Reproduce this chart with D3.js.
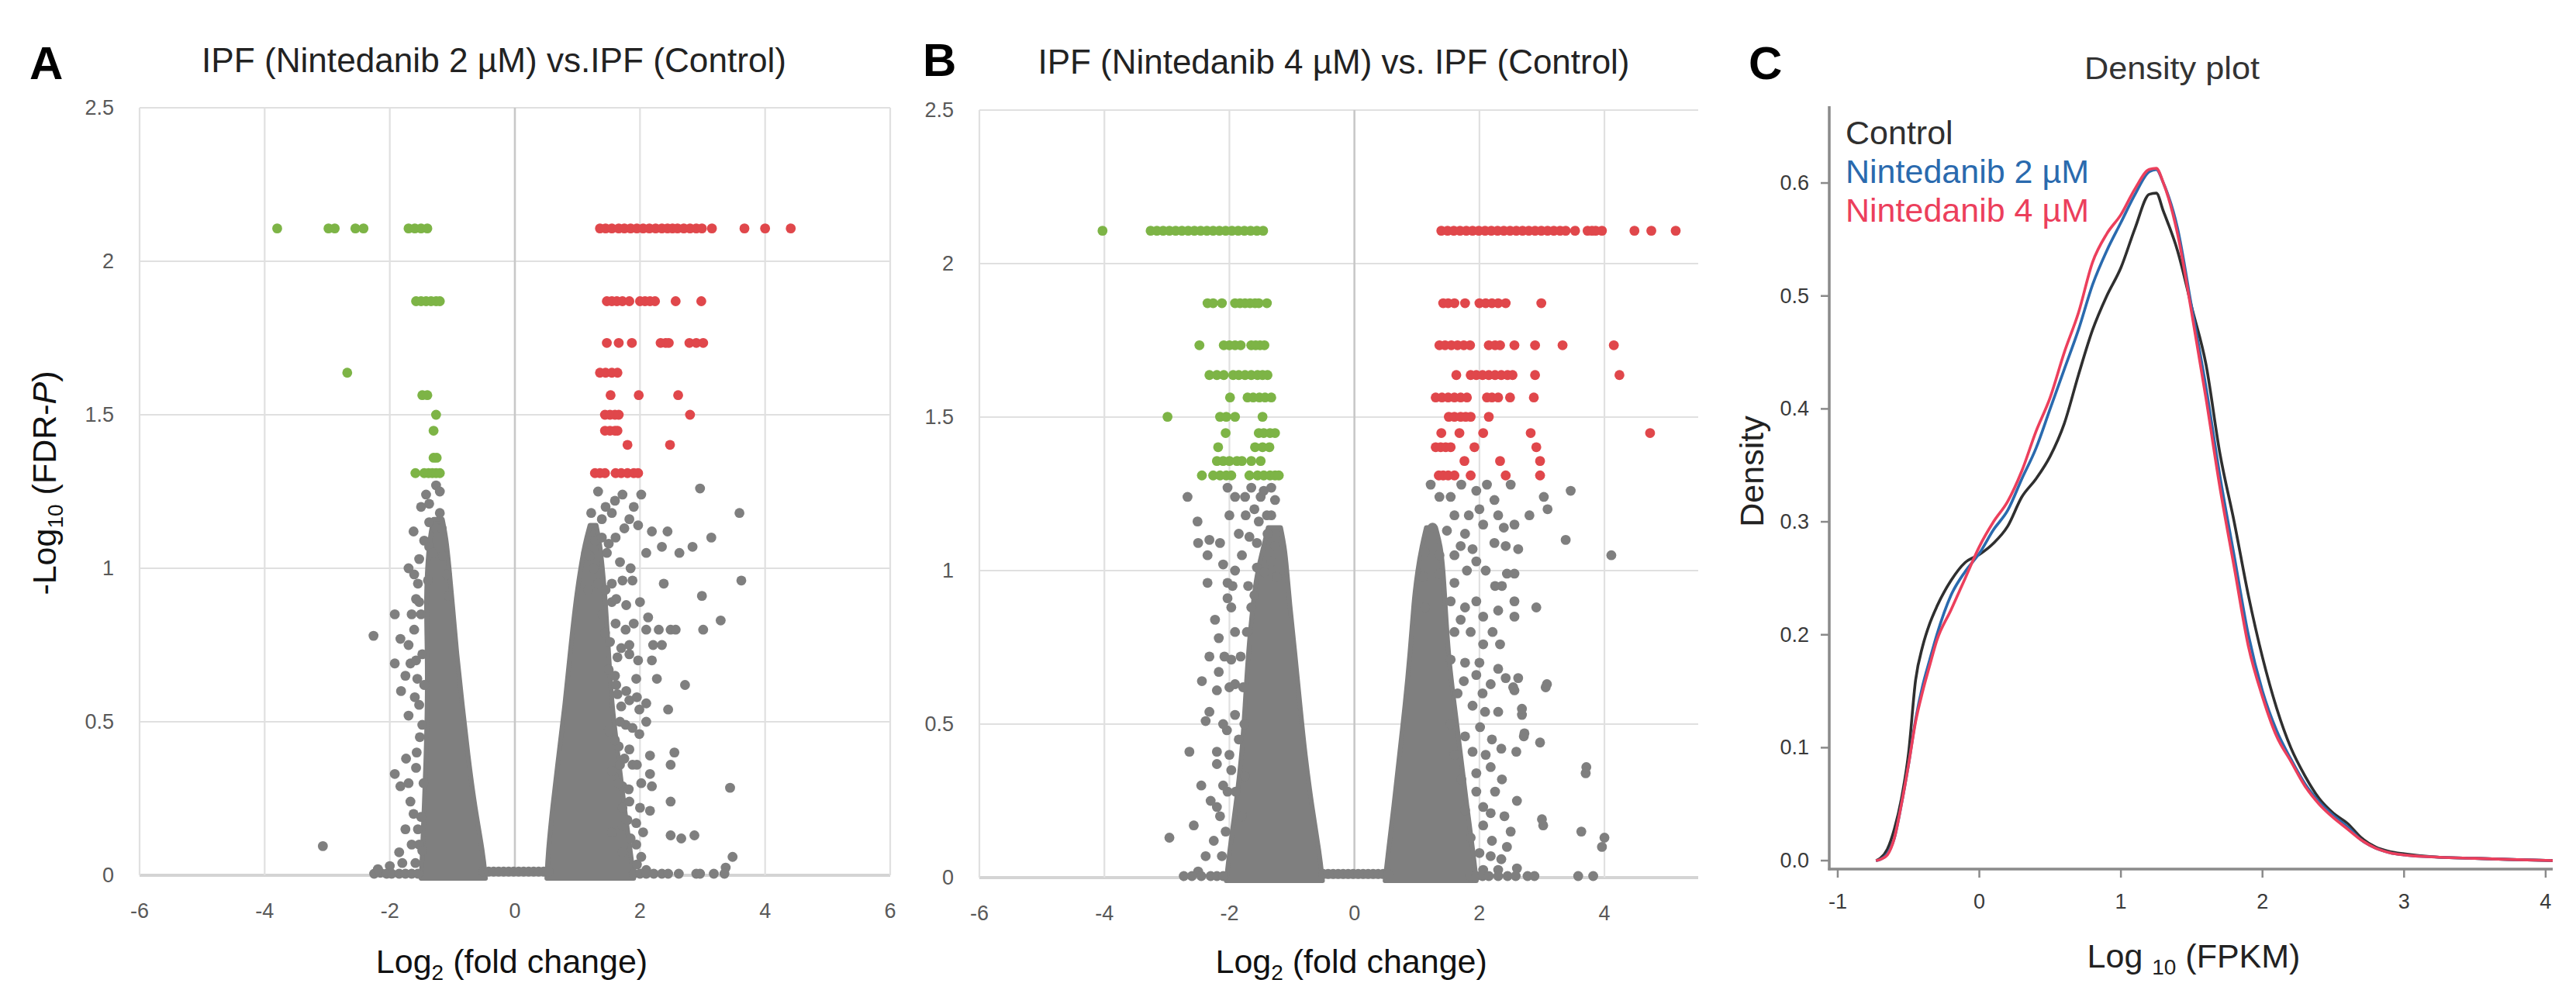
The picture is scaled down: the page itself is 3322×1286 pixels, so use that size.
<!DOCTYPE html>
<html><head><meta charset="utf-8">
<script src="https://cdn.jsdelivr.net/npm/d3@7"></script>
<style>html,body{margin:0;padding:0;background:#fff}</style>
</head><body>
<svg id="c" width="3322" height="1286"></svg>
<script>
// ================= DATA =================
const volcanoYTicks = [0, 0.5, 1, 1.5, 2, 2.5];
const volcanoXTicksA = [-6, -4, -2, 0, 2, 4, 6];
const volcanoXTicksB = [-6, -4, -2, 0, 2, 4];

// Panel A significant rows: [ -log10 FDR, [log2FC ...] ]
const aDownRows = [
  [2.107, [-3.8, -2.98, -2.88, -2.55, -2.42, -1.70, -1.60, -1.50, -1.40]],
  [1.87, [-1.58, -1.50, -1.42, -1.34, -1.26, -1.20]],
  [1.637, [-2.68]],
  [1.564, [-1.48, -1.40]],
  [1.50, [-1.26]],
  [1.448, [-1.30]],
  [1.36, [-1.30, -1.25]],
  [1.31, [-1.59, -1.45, -1.38, -1.32, -1.26, -1.20]]
];
const aUpRows = [
  [2.107, [1.36, 1.45, 1.55, 1.66, 1.75, 1.85, 1.95, 2.05, 2.15, 2.25, 2.35, 2.44, 2.52, 2.60, 2.70, 2.80, 2.90, 2.99, 3.15, 3.67, 4.0, 4.41]],
  [1.87, [1.47, 1.55, 1.63, 1.72, 1.83, 2.0, 2.08, 2.16, 2.24, 2.57, 2.98]],
  [1.734, [1.47, 1.66, 1.87, 2.33, 2.41, 2.46, 2.79, 2.90, 3.01]],
  [1.637, [1.36, 1.45, 1.55, 1.64]],
  [1.564, [1.53, 1.98, 2.61]],
  [1.50, [1.44, 1.52, 1.60, 1.66, 2.80]],
  [1.448, [1.44, 1.52, 1.60, 1.64]],
  [1.402, [1.80, 2.48]],
  [1.31, [1.28, 1.36, 1.44, 1.61, 1.70, 1.80, 1.90, 1.97]]
];
// Panel A dense cores: [y, xLeft, xRight]
const aCoreLeft = [[-0.01,-1.5,-0.47],[0.075,-1.48,-0.51],[0.22,-1.45,-0.64],[0.39,-1.42,-0.75],[0.555,-1.4,-0.84],[0.72,-1.4,-0.93],[0.89,-1.42,-1.0],[1.0,-1.4,-1.05],[1.1,-1.36,-1.1],[1.16,-1.3,-1.16]];
const aCoreRight = [[-0.01,0.51,1.9],[0.075,0.53,1.85],[0.22,0.6,1.75],[0.39,0.7,1.65],[0.555,0.8,1.55],[0.72,0.88,1.5],[0.89,0.97,1.45],[1.0,1.05,1.4],[1.08,1.12,1.36],[1.14,1.2,1.3]];
const bridgeX = [-0.5,-0.42,-0.34,-0.26,-0.18,-0.1,-0.02,0.06,0.14,0.22,0.30,0.38,0.46,0.54];
// Panel A non-significant genes: [log2FC, -log10 FDR]
const aGrey = [
 [-1.26,1.27],[-1.2,1.25],[-1.42,1.24],[-1.37,1.21],[-1.5,1.2],[-1.2,1.18],[-1.37,1.15],[-1.26,1.13],[-1.17,1.13],[-1.45,1.09],[-1.37,1.07],[-1.31,1.05],[-1.53,1.03],[-1.15,1.04],[-1.09,0.98],[-1.39,0.96],[-1.06,0.91],[-1.58,0.9],
 [-2.26,0.78],[-1.92,0.85],[-1.83,0.77],[-1.92,0.69],[-1.67,0.69],[-1.56,0.64],[-1.82,0.6],[-1.74,0.38],[-1.57,0.4],[-1.92,0.33],[-1.83,0.29],[-1.67,0.24],[-1.85,0.075],[-1.53,0.1],[-3.07,0.095],[-1.7,1.0],[-1.61,0.98],[-1.53,0.89],[-1.61,0.8],[-1.48,0.72],[-1.53,0.555],[-1.48,0.49],[-1.5,0.19],[-1.59,0.04],[-1.46,0.3],[-1.45,0.62],[-1.5,0.85],[-1.52,0.45],[-1.55,0.15],[-1.48,0.08],
 [-1.62,1.12],[-1.55,0.95],[-1.65,0.85],[-1.7,0.75],[-1.58,0.7],[-1.75,0.65],[-1.6,0.58],[-1.7,0.52],[-1.58,0.35],[-1.7,0.3],[-1.62,0.2],[-1.75,0.15],[-1.65,0.1],[-1.8,0.04],[-2.0,0.03],
 [-2.25,0.005],[-2.15,0.008],[-2.05,0.005],[-1.97,0.005],[-1.85,0.005],[-1.75,0.005],[-1.65,0.005],[-1.55,0.005],[-2.19,0.02],
 [1.33,1.25],[1.72,1.24],[2.02,1.24],[1.22,1.18],[1.39,1.16],[1.55,1.18],[1.83,1.16],[1.97,1.14],[2.19,1.12],[2.44,1.12],[2.1,1.05],[2.35,1.07],[2.63,1.05],[2.84,1.07],[3.14,1.1],[2.96,1.26],[3.59,1.18],[1.28,1.09],[1.39,1.1],[1.2,1.04],[1.61,1.1],[1.33,0.95],[1.55,0.95],[1.72,0.96],[1.88,0.96],[2.38,0.95],[3.62,0.96],[2.99,0.91],[2.0,0.89],[1.55,0.89],[1.61,0.82],[1.77,0.8],[2.13,0.84],[2.1,0.8],[2.3,0.8],[2.49,0.8],[2.57,0.8],[3.01,0.8],[3.29,0.83],[1.83,0.75],[2.21,0.75],[2.35,0.75],[1.83,0.72],[1.64,0.71],[2.19,0.7],[1.94,0.64],[2.27,0.64],[2.72,0.62],[1.83,0.57],[2.1,0.56],[2.45,0.54],[1.99,0.54],[1.77,0.49],[1.99,0.46],[2.1,0.5],[1.83,0.41],[2.16,0.39],[2.55,0.4],[2.49,0.36],[2.16,0.33],[1.88,0.36],[2.02,0.3],[2.19,0.29],[1.72,0.29],[3.44,0.285],[1.83,0.24],[2.49,0.24],[2.16,0.21],[1.94,0.17],[1.72,0.16],[2.49,0.13],[2.66,0.12],[2.87,0.13],[1.94,0.1],[1.72,0.075],[3.48,0.06],[3.37,0.025],[2.1,0.017],[1.5,0.47],[1.64,0.59],[1.5,0.67],[1.66,0.42],[1.55,0.34],[1.72,0.22],[1.55,0.14],[1.44,0.79],[1.14,1.05],[1.17,0.93],[1.47,1.05],[1.26,1.0],[1.4,0.85],[1.6,0.65],[1.7,0.55],[1.68,0.36],
 [1.6,1.22],[1.45,1.2],[1.9,1.2],[1.75,1.13],[1.5,1.08],[1.68,1.02],[1.85,1.0],[1.45,0.93],[1.62,0.9],[1.78,0.88],[1.9,0.82],[1.52,0.76],[1.7,0.74],[1.97,0.7],[1.62,0.62],[1.78,0.6],[1.95,0.58],[1.68,0.5],[1.88,0.48],[1.6,0.44],[1.75,0.38],[1.95,0.36],[1.65,0.3],[1.82,0.28],[2.0,0.22],[1.8,0.18],[2.05,0.14],[1.85,0.12],[2.02,0.06],[1.95,0.035],
 [1.9,0.005],[2.0,0.005],[2.1,0.005],[2.22,0.005],[2.35,0.005],[2.45,0.005],[2.62,0.005],[2.9,0.005],[2.96,0.005],[3.18,0.005],[3.35,0.005]
];

// Panel B
const bDownRows = [
  [2.107, [-4.03, -3.26, -3.16, -3.06, -2.96, -2.86, -2.76, -2.66, -2.56, -2.46, -2.36, -2.26, -2.16, -2.06, -1.96, -1.86, -1.76, -1.66, -1.56, -1.46]],
  [1.871, [-2.35, -2.26, -2.12, -1.91, -1.83, -1.75, -1.67, -1.59, -1.53, -1.40]],
  [1.734, [-2.48, -2.09, -2.0, -1.91, -1.82, -1.65, -1.58, -1.51, -1.44]],
  [1.637, [-2.32, -2.20, -2.09, -1.94, -1.85, -1.75, -1.65, -1.55, -1.47, -1.39]],
  [1.564, [-1.99, -1.71, -1.62, -1.52, -1.43, -1.33]],
  [1.501, [-2.99, -2.15, -2.05, -1.91, -1.47]],
  [1.448, [-2.06, -1.53, -1.45, -1.35, -1.27]],
  [1.402, [-2.18, -1.59, -1.47, -1.36]],
  [1.357, [-2.2, -2.1, -2.0, -1.88, -1.8, -1.65, -1.5]],
  [1.31, [-2.44, -2.26, -2.15, -2.05, -1.97, -1.68, -1.55, -1.45, -1.35, -1.27, -1.21]]
];
const bUpRows = [
  [2.107, [1.39, 1.49, 1.59, 1.69, 1.79, 1.89, 1.99, 2.09, 2.19, 2.29, 2.39, 2.49, 2.59, 2.69, 2.79, 2.89, 2.99, 3.09, 3.19, 3.29, 3.38, 3.53, 3.73, 3.80, 3.86, 3.96, 4.48, 4.75, 5.14]],
  [1.871, [1.42, 1.50, 1.60, 1.77, 2.0, 2.1, 2.2, 2.3, 2.42, 2.99]],
  [1.734, [1.36, 1.45, 1.55, 1.65, 1.75, 1.85, 2.15, 2.25, 2.33, 2.56, 2.89, 3.33, 4.15]],
  [1.637, [1.63, 1.86, 1.95, 2.05, 2.15, 2.25, 2.35, 2.45, 2.53, 2.89, 4.24]],
  [1.564, [1.30, 1.40, 1.50, 1.60, 1.70, 1.80, 2.12, 2.20, 2.30, 2.49, 2.87]],
  [1.501, [1.51, 1.60, 1.70, 1.78, 1.86, 2.15]],
  [1.448, [1.39, 1.68, 2.06, 2.82, 4.73]],
  [1.402, [1.30, 1.38, 1.46, 1.54, 1.92, 2.91]],
  [1.357, [1.76, 2.33, 2.97]],
  [1.31, [1.35, 1.42, 1.50, 1.60, 1.86, 2.42, 2.97]]
];
const bCoreLeft = [[-0.01,-2.05,-0.51],[0.083,-2.0,-0.56],[0.23,-1.9,-0.68],[0.40,-1.8,-0.79],[0.56,-1.75,-0.87],[0.73,-1.7,-0.95],[0.90,-1.62,-1.04],[1.0,-1.55,-1.08],[1.08,-1.45,-1.12],[1.14,-1.38,-1.18]];
const bCoreRight = [[-0.01,0.49,1.95],[0.083,0.54,1.9],[0.23,0.63,1.8],[0.40,0.72,1.7],[0.56,0.81,1.6],[0.73,0.89,1.5],[0.90,0.95,1.45],[1.0,1.01,1.42],[1.08,1.08,1.38],[1.14,1.15,1.3]];
const bGrey = [
 [-2.03,1.27],[-1.91,1.24],[-1.65,1.27],[-1.5,1.24],[-1.33,1.27],[-1.27,1.23],[-2.0,1.18],[-1.74,1.18],[-1.53,1.16],[-1.33,1.18],[-1.68,1.11],[-1.56,1.09],[-1.39,1.12],[-1.27,1.08],[-1.8,1.05],[-1.56,1.01],[-1.44,0.995],[-1.33,1.03],[-1.24,0.98],[-1.91,1.0],[-2.03,0.96],[-2.67,1.24],[-2.51,1.16],[-2.5,1.09],[-2.32,1.1],[-2.15,1.09],[-2.35,1.05],[-2.35,0.96],[-2.03,0.91],[-1.97,0.88],[-2.23,0.84],[-2.17,0.78],[-1.91,0.8],[-2.32,0.72],[-1.97,0.71],[-2.17,0.67],[-2.44,0.64],[-2.2,0.61],[-1.91,0.63],[-2.32,0.54],[-2.38,0.51],[-2.04,0.48],[-1.91,0.53],[-2.64,0.41],[-2.2,0.41],[-2.2,0.37],[-1.97,0.35],[-2.03,0.28],[-2.2,0.23],[-2.57,0.17],[-2.96,0.13],[-2.38,0.07],[-2.12,0.07],[-2.06,0.15],[-1.85,0.45],[-1.78,0.62],[-1.75,0.33],[-1.8,0.2],[-1.72,0.8],[-1.65,0.88],[-1.9,0.28],[-1.76,0.5],[-1.82,0.72],[-1.7,0.95],[-1.6,0.92],
 [-2.1,0.5],[-2.0,0.4],[-2.1,0.3],[-2.15,0.2],[-2.25,0.12],[-2.0,0.62],[-2.08,0.72],[-1.95,0.95],[-2.1,1.02],[-1.85,1.12],[-1.75,1.24],[-1.6,1.2],[-1.45,1.26],[-1.4,1.18],[-2.45,0.3],[-2.3,0.25],[-2.5,0.02],
 [-2.73,0.005],[-2.6,0.005],[-2.45,0.005],[-2.3,0.005],[-2.2,0.005],[-2.1,0.005],
 [1.22,1.28],[1.36,1.24],[1.54,1.24],[1.71,1.28],[1.95,1.26],[2.12,1.28],[2.24,1.23],[2.5,1.28],[1.6,1.18],[1.83,1.18],[1.25,1.14],[1.48,1.13],[1.77,1.12],[2.06,1.15],[2.39,1.14],[2.56,1.15],[2.8,1.18],[3.03,1.24],[3.09,1.2],[3.46,1.26],[3.38,1.1],[4.11,1.05],[1.13,1.06],[1.36,1.05],[1.6,1.05],[1.89,1.07],[2.24,1.09],[2.42,1.08],[2.62,1.07],[1.1,0.98],[1.36,0.99],[1.6,0.96],[1.8,1.0],[1.95,1.03],[2.44,0.99],[2.56,0.99],[2.36,0.95],[1.13,0.88],[1.54,0.9],[1.77,0.88],[2.06,0.85],[2.56,0.9],[2.56,0.85],[2.91,0.88],[1.6,0.8],[1.86,0.8],[2.06,0.76],[2.21,0.8],[2.33,0.76],[1.54,0.71],[1.77,0.7],[1.95,0.66],[2.18,0.63],[2.42,0.65],[2.56,0.61],[3.06,0.62],[1.65,0.6],[1.89,0.56],[2.09,0.54],[2.3,0.54],[2.68,0.53],[1.54,0.5],[1.77,0.46],[2.01,0.49],[2.71,0.46],[2.97,0.44],[1.6,0.4],[1.89,0.41],[2.18,0.36],[2.59,0.41],[2.36,0.32],[3.7,0.34],[1.71,0.32],[1.95,0.28],[2.06,0.23],[1.77,0.22],[2.18,0.21],[2.06,0.17],[1.86,0.13],[3.02,0.17],[3.63,0.15],[4.0,0.13],[3.96,0.1],[2.44,0.1],[2.18,0.07],[2.06,0.025],[2.3,0.025],[3.0,0.19],[3.71,0.36],[2.72,0.47],[3.08,0.63],[2.62,0.65],[2.54,0.62],[2.68,0.55],
 [2.0,1.2],[2.3,1.18],[1.7,1.08],[2.1,1.0],[2.25,0.95],[1.95,0.9],[2.3,0.87],[1.7,0.84],[2.0,0.7],[2.3,0.68],[1.75,0.64],[2.05,0.6],[2.2,0.45],[2.1,0.4],[2.35,0.42],[1.95,0.34],[2.25,0.28],[2.4,0.2],[2.2,0.12],[2.0,0.08],[2.35,0.06],[2.6,0.03],[2.5,0.15],[2.6,0.25],
 [1.85,0.005],[1.95,0.005],[2.05,0.005],[2.15,0.005],[2.3,0.005],[2.45,0.005],[2.58,0.005],[2.77,0.005],[2.88,0.005],[3.58,0.005],[3.82,0.005]
];

// Panel C: density curves
const densX = [-0.73,-0.7,-0.65,-0.6,-0.55,-0.5,-0.45,-0.4,-0.35,-0.3,-0.2,-0.1,0,0.1,0.2,0.3,0.4,0.5,0.6,0.7,0.8,0.9,1.0,1.1,1.2,1.25,1.3,1.4,1.5,1.6,1.7,1.8,1.9,2.0,2.1,2.2,2.3,2.4,2.5,2.6,2.7,2.8,2.9,3.0,3.25,3.5,3.75,4.05];
const densControl = [0,0.002,0.01,0.028,0.055,0.095,0.16,0.19,0.21,0.225,0.248,0.264,0.271,0.281,0.296,0.322,0.338,0.358,0.387,0.43,0.47,0.5,0.525,0.56,0.59,0.591,0.575,0.54,0.49,0.44,0.36,0.30,0.235,0.18,0.135,0.10,0.075,0.055,0.042,0.033,0.02,0.012,0.008,0.006,0.003,0.002,0.001,0];
const densN2 = [0,0.001,0.006,0.02,0.05,0.085,0.125,0.155,0.178,0.20,0.235,0.256,0.272,0.293,0.31,0.338,0.365,0.40,0.435,0.47,0.51,0.54,0.565,0.59,0.61,0.612,0.60,0.56,0.49,0.42,0.34,0.27,0.20,0.15,0.115,0.09,0.068,0.052,0.04,0.03,0.018,0.011,0.007,0.005,0.003,0.002,0.001,0];
const densN4 = [0,0.001,0.005,0.02,0.05,0.085,0.123,0.15,0.173,0.195,0.222,0.25,0.278,0.30,0.318,0.345,0.38,0.41,0.45,0.485,0.53,0.555,0.572,0.595,0.612,0.613,0.60,0.555,0.485,0.41,0.33,0.26,0.19,0.145,0.11,0.088,0.066,0.05,0.038,0.028,0.018,0.011,0.007,0.005,0.003,0.002,0.001,0];
const densSeriesNames = ["Control", "Nintedanib 2 \u00B5M", "Nintedanib 4 \u00B5M"];
const densXTicks = [-1, 0, 1, 2, 3, 4];
const densYTicks = [0, 0.1, 0.2, 0.3, 0.4, 0.5, 0.6];

// ================= DRAW =================
const FONT = "'Liberation Sans', Arial, sans-serif";
const GREY = "#7f7f7f", GREEN = "#7db446", RED = "#e0474b";
const svg = d3.select("#c").style("font-family", FONT);
svg.append("rect").attr("width", 3322).attr("height", 1286).attr("fill", "#fff");

function rowsToPts(rows) { return rows.flatMap(([yv, xs]) => xs.map(xv => [xv, yv])); }

function drawVolcano(o) {
  const x = d3.scaleLinear().domain(o.xDom).range([o.left, o.right]);
  const y = d3.scaleLinear().domain([0, 2.5]).range([o.bottom, o.top]);
  const g = svg.append("g");
  g.selectAll(".hg").data(volcanoYTicks).join("line")
    .attr("x1", o.left).attr("x2", o.right)
    .attr("y1", d => y(d)).attr("y2", d => y(d))
    .attr("stroke", d => d === 0 ? "#d4d4d4" : "#e0e0e0")
    .attr("stroke-width", d => d === 0 ? 4 : 2.2);
  g.selectAll(".vg").data(o.xTicks).join("line")
    .attr("x1", d => x(d)).attr("x2", d => x(d))
    .attr("y1", y(0)).attr("y2", y(2.5))
    .attr("stroke", d => d === 0 ? "#c8c8c8" : "#e0e0e0")
    .attr("stroke-width", d => d === 0 ? 2.6 : 2.2);
  g.selectAll(".yl").data(volcanoYTicks).join("text")
    .attr("x", o.left - 33).attr("y", d => y(d))
    .attr("text-anchor", "end").attr("dominant-baseline", "central")
    .attr("font-size", 27).attr("fill", "#595959").text(d => d);
  g.selectAll(".xl").data(o.xTicks).join("text")
    .attr("x", d => x(d)).attr("y", y(0) + 46)
    .attr("text-anchor", "middle").attr("dominant-baseline", "central")
    .attr("font-size", 27).attr("fill", "#595959").text(d => d);

  const area = d3.area().y(d => y(d[0])).x0(d => x(d[1])).x1(d => x(d[2])).curve(d3.curveBasis);
  g.selectAll(".core").data(o.cores).join("path")
    .attr("d", area).attr("fill", GREY).attr("stroke", GREY)
    .attr("stroke-width", 6).attr("stroke-linejoin", "round");
  const R = 6.4;
  const greyPts = o.grey.concat(bridgeX.map(v => [v, 0.012]));
  g.selectAll(".gp").data(greyPts).join("circle")
    .attr("cx", d => x(d[0])).attr("cy", d => y(d[1])).attr("r", R).attr("fill", GREY);
  g.selectAll(".dn").data(rowsToPts(o.down)).join("circle")
    .attr("cx", d => x(d[0])).attr("cy", d => y(d[1])).attr("r", R).attr("fill", GREEN);
  g.selectAll(".up").data(rowsToPts(o.up)).join("circle")
    .attr("cx", d => x(d[0])).attr("cy", d => y(d[1])).attr("r", R).attr("fill", RED);

  g.append("text").attr("x", o.labelX).attr("y", o.labelY)
    .attr("font-size", 60).attr("font-weight", "bold").attr("fill", "#000").text(o.label);
  g.append("text").attr("x", o.titleX).attr("y", o.titleY).attr("text-anchor", "middle")
    .attr("font-size", 44).attr("fill", "#222").attr("textLength", o.titleLen)
    .attr("lengthAdjust", "spacingAndGlyphs").text(o.title);
  const xt = g.append("text").attr("x", x(0) - 4).attr("y", 1255).attr("text-anchor", "middle")
    .attr("font-size", 43).attr("fill", "#111");
  xt.append("tspan").text("Log");
  xt.append("tspan").attr("font-size", 28).attr("dy", 9).text("2");
  xt.append("tspan").attr("dy", -9).text(" (fold change)");
  return { x, y };
}

drawVolcano({
  xDom: [-6, 6], left: 180, right: 1148, bottom: 1129, top: 139,
  xTicks: volcanoXTicksA, cores: [aCoreLeft, aCoreRight], grey: aGrey,
  down: aDownRows, up: aUpRows,
  label: "A", labelX: 38, labelY: 102,
  title: "IPF (Nintedanib 2 \u00B5M) vs.IPF (Control)", titleX: 637, titleY: 93, titleLen: 754
});
drawVolcano({
  xDom: [-6, 5.5], left: 1263, right: 2190, bottom: 1132, top: 142,
  xTicks: volcanoXTicksB, cores: [bCoreLeft, bCoreRight], grey: bGrey,
  down: bDownRows, up: bUpRows,
  label: "B", labelX: 1190, labelY: 98,
  title: "IPF (Nintedanib 4 \u00B5M) vs. IPF (Control)", titleX: 1720, titleY: 95, titleLen: 763
});

// y-axis title panel A
{
  const t = svg.append("text").attr("transform", "translate(72,623) rotate(-90)")
    .attr("text-anchor", "middle").attr("font-size", 43).attr("fill", "#111");
  t.append("tspan").text("-Log");
  t.append("tspan").attr("font-size", 28).attr("dy", 9).text("10");
  t.append("tspan").attr("dy", -9).text(" (FDR-");
  t.append("tspan").attr("font-style", "italic").text("P");
  t.append("tspan").text(")");
}

// ---------- Panel C ----------
{
  const x = d3.scaleLinear().domain([-1.06, 4.05]).range([2359, 3292]);
  const y = d3.scaleLinear().domain([-0.0075, 0.668]).range([1121, 137]);
  const g = svg.append("g");
  g.append("clipPath").attr("id", "clipC").append("rect")
    .attr("x", 2359).attr("y", 130).attr("width", 934).attr("height", 992);
  const AX = "#8a8a8a";
  g.append("line").attr("x1", 2359).attr("x2", 2359).attr("y1", 137).attr("y2", 1122.5)
    .attr("stroke", AX).attr("stroke-width", 3.5);
  g.append("line").attr("x1", 2357.5).attr("x2", 3292).attr("y1", 1121).attr("y2", 1121)
    .attr("stroke", AX).attr("stroke-width", 3.5);
  g.selectAll(".xt").data(densXTicks).join("line")
    .attr("x1", d => x(d)).attr("x2", d => x(d)).attr("y1", 1121).attr("y2", 1132)
    .attr("stroke", AX).attr("stroke-width", 2.5);
  g.selectAll(".yt").data(densYTicks).join("line")
    .attr("x1", 2348).attr("x2", 2359).attr("y1", d => y(d)).attr("y2", d => y(d))
    .attr("stroke", AX).attr("stroke-width", 2.5);
  g.selectAll(".xtl").data(densXTicks).join("text")
    .attr("x", d => x(d)).attr("y", 1163).attr("text-anchor", "middle")
    .attr("dominant-baseline", "central").attr("font-size", 27).attr("fill", "#3a3a3a").text(d => d);
  g.selectAll(".ytl").data(densYTicks).join("text")
    .attr("x", 2333).attr("y", d => y(d)).attr("text-anchor", "end")
    .attr("dominant-baseline", "central").attr("font-size", 27).attr("fill", "#3a3a3a")
    .text(d => d3.format(".1f")(d));

  const series = [densControl, densN2, densN4];
  const colors = ["#2f2f2f", "#2a6aae", "#ec3f5c"];
  const line = d3.line().x((d, i) => x(densX[i])).y(d => y(d)).curve(d3.curveMonotoneX);
  g.selectAll(".dl").data(series).join("path")
    .attr("d", line).attr("fill", "none")
    .attr("stroke", (d, i) => colors[i]).attr("stroke-width", 3.6)
    .attr("stroke-linejoin", "round").attr("clip-path", "url(#clipC)");

  g.selectAll(".lg").data(densSeriesNames).join("text")
    .attr("x", 2380).attr("y", (d, i) => 186 + i * 50)
    .attr("font-size", 43).attr("fill", (d, i) => colors[i]).text(d => d);

  g.append("text").attr("x", 2255).attr("y", 102).attr("font-size", 60)
    .attr("font-weight", "bold").attr("fill", "#000").text("C");
  g.append("text").attr("x", 2801).attr("y", 102).attr("text-anchor", "middle")
    .attr("font-size", 40).attr("fill", "#333").attr("textLength", 226)
    .attr("lengthAdjust", "spacingAndGlyphs").text("Density plot");
  g.append("text").attr("transform", "translate(2274,608) rotate(-90)")
    .attr("text-anchor", "middle").attr("font-size", 43).attr("fill", "#222").text("Density");
  const xl = g.append("text").attr("x", 2829).attr("y", 1248).attr("text-anchor", "middle")
    .attr("font-size", 43).attr("fill", "#222");
  xl.append("tspan").text("Log ");
  xl.append("tspan").attr("font-size", 28).attr("dy", 9).text("10");
  xl.append("tspan").attr("dy", -9).text(" (FPKM)");
}
</script>
</body></html>
